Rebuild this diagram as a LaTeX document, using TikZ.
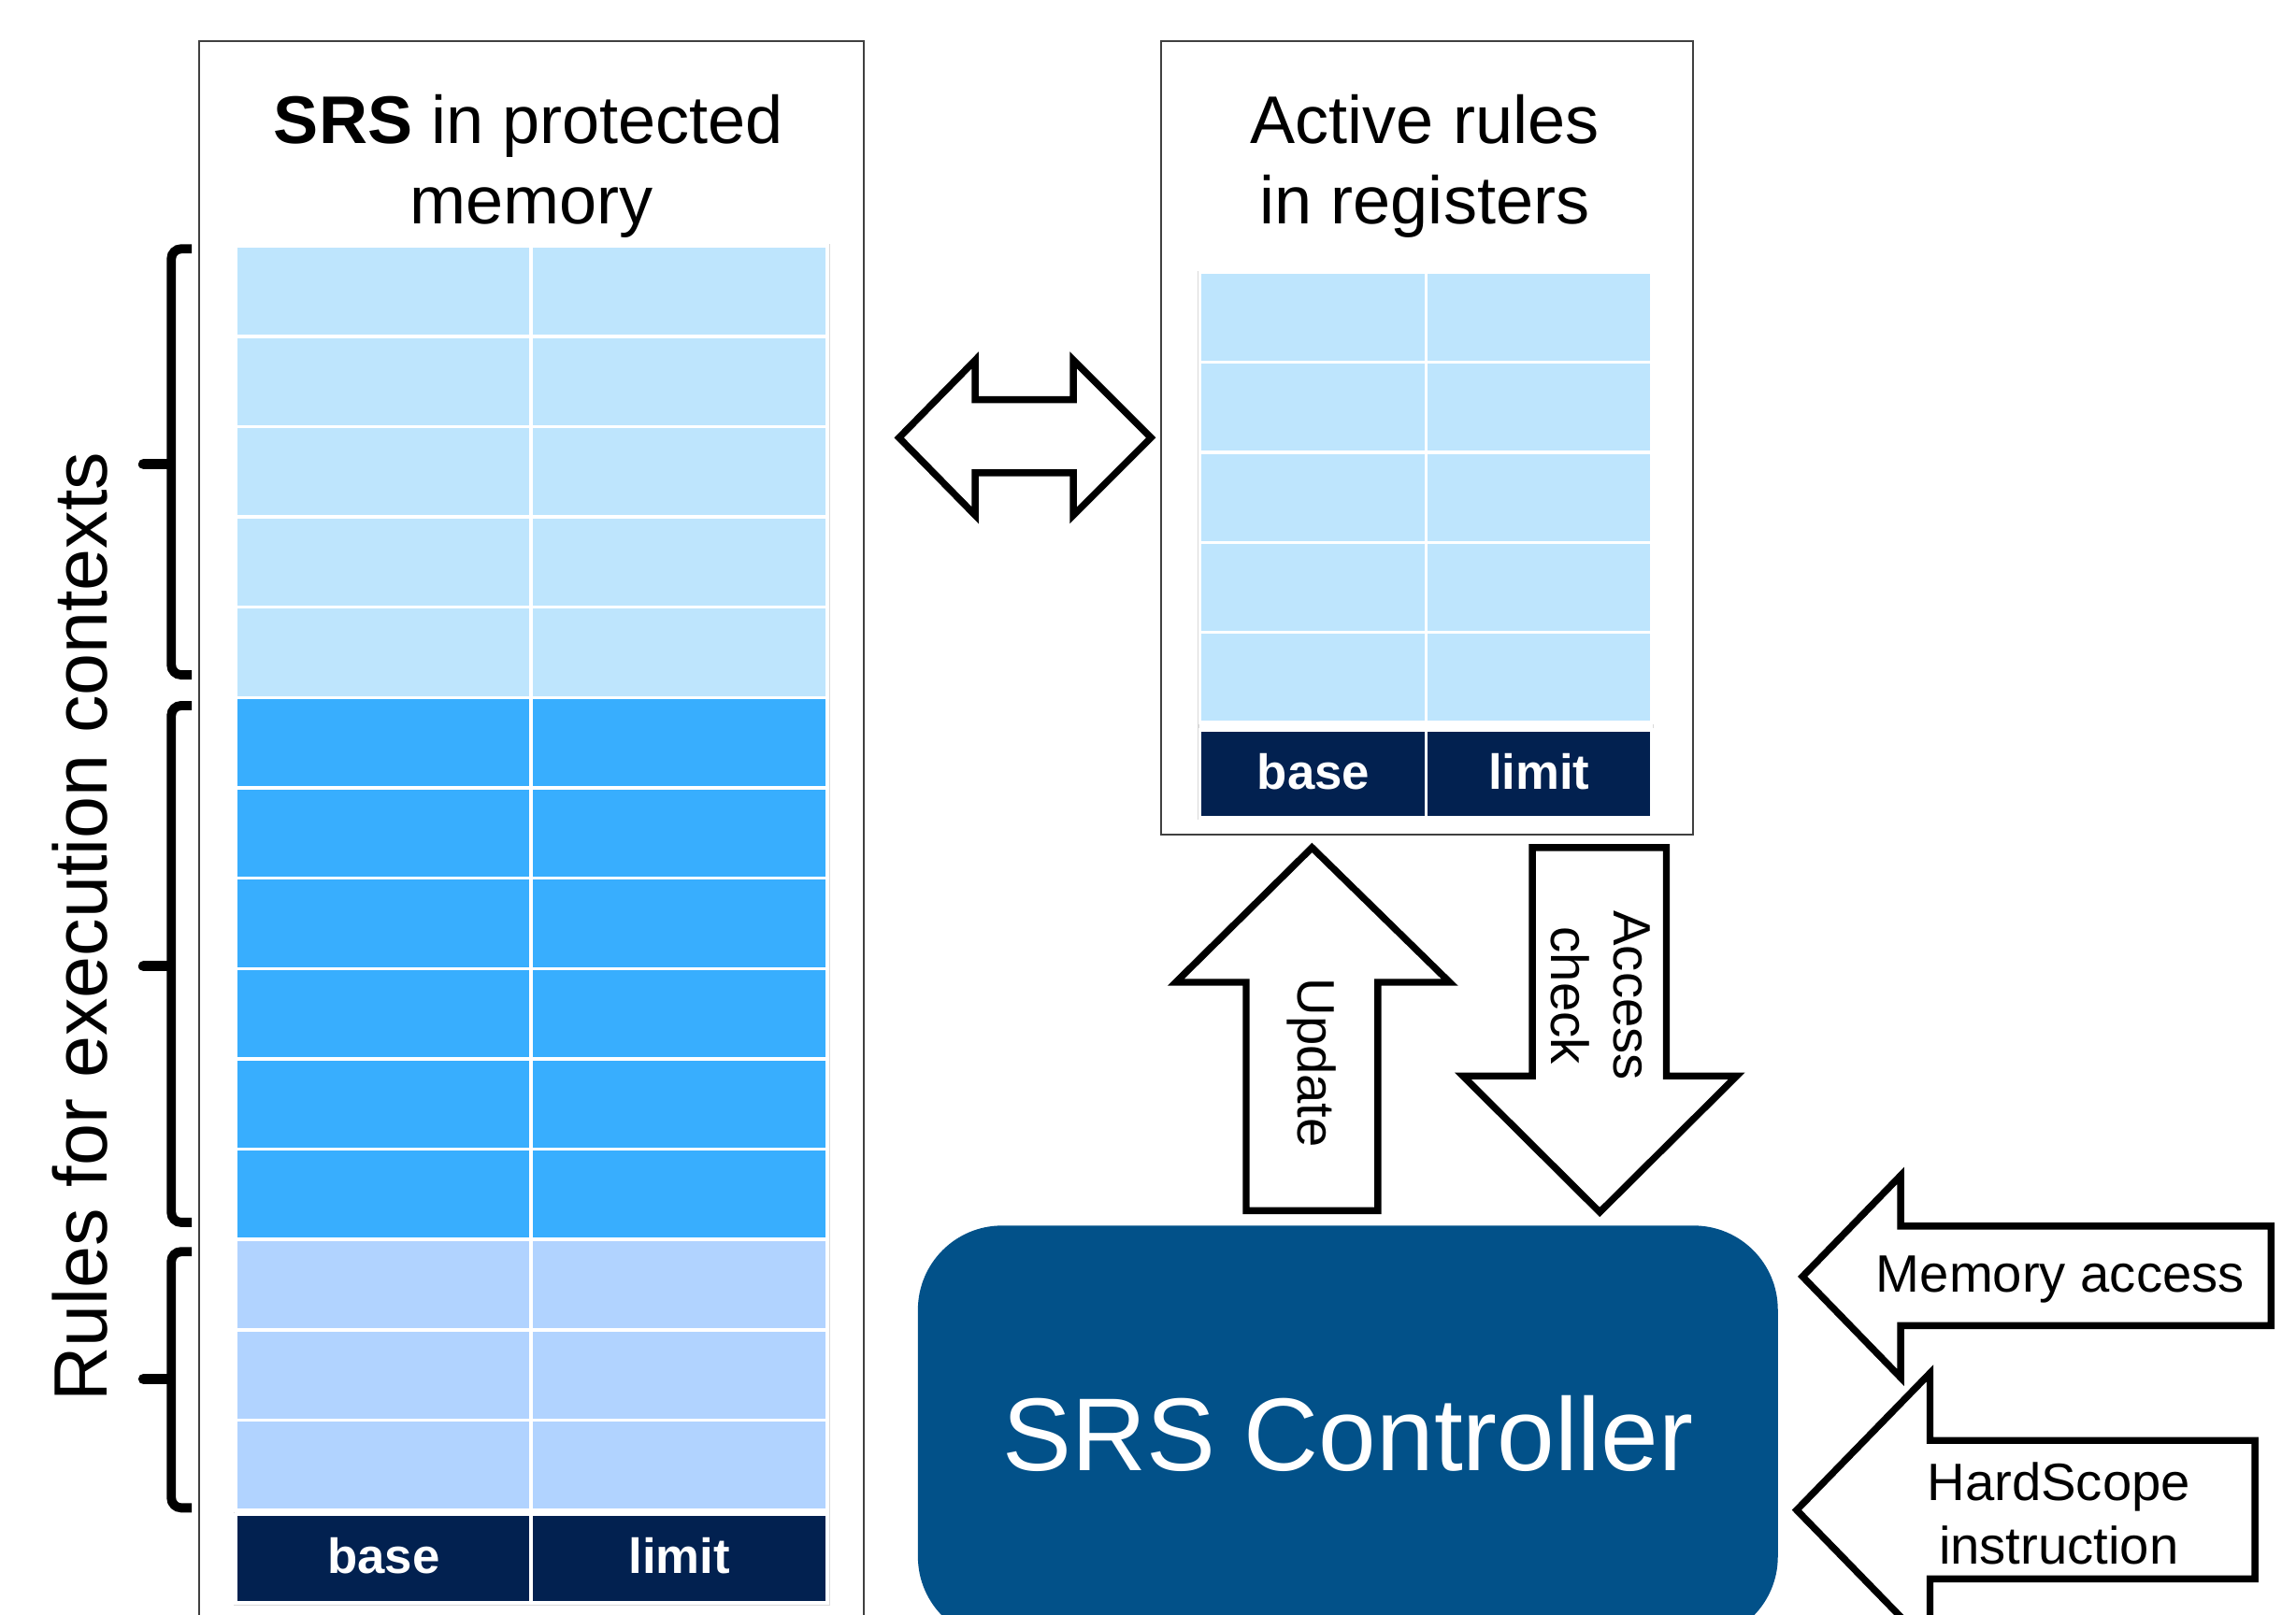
\documentclass[tikz,border=0pt]{standalone}
\usepackage{fontspec}
\setmainfont{Liberation Sans}
\definecolor{lightA}{RGB}{190,229,253}
\definecolor{midB}{RGB}{56,174,254}
\definecolor{lightC}{RGB}{177,211,255}
\definecolor{navyH}{RGB}{2,33,80}
\definecolor{ctrl}{RGB}{2,81,137}
\newcommand{\fs}[1]{\fontsize{#1}{1.2\dimexpr#1\relax}\selectfont}
\begin{document}
\begin{tikzpicture}[x=0.015663cm,y=-0.015663cm,
  boxline/.style={draw=black!75,line width=0.6pt},
  cell/.style={draw=white,line width=1pt},
  tableframe/.style={draw=black!15,line width=0.4pt},
  hdrtext/.style={text=white,font=\fs{15pt}\bfseries,inner sep=0pt},
  blockarrow/.style={draw=black,line width=2.1pt,fill=white,line join=miter},
  bracestyle/.style={draw=black,line width=2.8pt,rounded corners=3pt},
  bracetip/.style={draw=black,line width=3.2pt,line cap=round},
  title/.style={font=\fs{20.5pt},inner sep=0pt},
  label/.style={font=\fs{16pt},inner sep=0pt,align=center}]
\useasboundingbox (0,0) rectangle (1568,1103);
\clip (0,0) rectangle (1568,1103);

% ---- left container
\draw[boxline] (136,28) rectangle (590,1140);
\node[title,anchor=base] (lt1) at (361,98) {\textbf{SRS} in protected};
\node[title,anchor=base] (lt2) at (363,153) {memory};

% left table
\draw[tableframe] (160,167) rectangle (566.5,1096.5);
\foreach \i in {0,...,4}
  \draw[cell,fill=lightA] (161,{168+61.7*\i}) rectangle (362.5,{168+61.7*(\i+1)})
        (362.5,{168+61.7*\i}) rectangle (565,{168+61.7*(\i+1)});
\foreach \i in {5,...,10}
  \draw[cell,fill=midB] (161,{168+61.7*\i}) rectangle (362.5,{168+61.7*(\i+1)})
        (362.5,{168+61.7*\i}) rectangle (565,{168+61.7*(\i+1)});
\foreach \i in {11,...,13}
  \draw[cell,fill=lightC] (161,{168+61.7*\i}) rectangle (362.5,{168+61.7*(\i+1)})
        (362.5,{168+61.7*\i}) rectangle (565,{168+61.7*(\i+1)});
\draw[cell,fill=navyH] (161,1034.5) rectangle (362.5,1095) (362.5,1034.5) rectangle (565,1095);
\node[hdrtext] (lbase) at (262,1063) {base};
\node[hdrtext] (llimit) at (464,1063) {limit};

% braces
\draw[bracestyle] (131,170) -- (117,170) -- (117,461) -- (131,461);
\draw[bracetip] (115,317) -- (98,317);
\draw[bracestyle] (131,482) -- (117,482) -- (117,835) -- (131,835);
\draw[bracetip] (115,660) -- (98,660);
\draw[bracestyle] (131,855) -- (117,855) -- (117,1030) -- (131,1030);
\draw[bracetip] (115,942) -- (98,942);
\node[font=\fs{23pt},rotate=90,anchor=base,inner sep=0pt] (rules) at (73,633) {Rules for execution contexts};

% ---- right container
\draw[boxline] (793,28) rectangle (1156,570);
\node[title,anchor=base] (rt1) at (973,98) {Active rules};
\node[title,anchor=base] (rt2) at (973,153) {in registers};
\draw[tableframe] (818.5,185.5) rectangle (1129,559.5);
\foreach \i in {0,...,4}
  \draw[cell,fill=lightA] (819.5,{186+61.5*\i}) rectangle (974,{186+61.5*(\i+1)})
        (974,{186+61.5*\i}) rectangle (1128,{186+61.5*(\i+1)});
\draw[cell,fill=navyH] (819.5,498.5) rectangle (974,558.5) (974,498.5) rectangle (1128,558.5);
\node[hdrtext] (rbase) at (897,527) {base};
\node[hdrtext] (rlimit) at (1051,527) {limit};

% ---- double arrow between memory and registers
\draw[blockarrow] (614,299) -- (666,246) -- (666,273) -- (733,273) -- (733,246) -- (786,299)
   -- (733,352) -- (733,323) -- (666,323) -- (666,352) -- cycle;

% ---- Update arrow
\draw[blockarrow] (896,579) -- (990,671) -- (941,671) -- (941,827) -- (851,827) -- (851,671) -- (803,671) -- cycle;
\node[label,rotate=-90] (upd) at (896,726) {Update};

% ---- Access check arrow
\draw[blockarrow] (1046.5,579) -- (1138,579) -- (1138,735) -- (1186,735) -- (1092.5,828) -- (999,735) -- (1046.5,735) -- cycle;
\node[label,rotate=-90] (acc) at (1093,680) {Access\\check};

% ---- controller
\node[fill=ctrl,rounded corners=0.9cm,minimum width=9.194cm,minimum height=4.44cm,
      text=white,font=\fs{31.5pt},inner sep=0pt] (ctl) at (920.5,979) {SRS Controller};

% ---- Memory access arrow
\draw[blockarrow] (1231,872) -- (1298,803) -- (1298,837.5) -- (1551,837.5) -- (1551,905.5) -- (1298,905.5) -- (1298,941) -- cycle;
\node[label] (mem) at (1407,874) {Memory access};

% ---- HardScope instruction arrow
\draw[blockarrow] (1227,1031.5) -- (1318,938) -- (1318,984) -- (1540,984) -- (1540,1078.5) -- (1318,1078.5) -- (1318,1125) -- cycle;
\node[label] (hsi) at (1406,1034) {HardScope\\instruction};
\end{tikzpicture}
\end{document}
